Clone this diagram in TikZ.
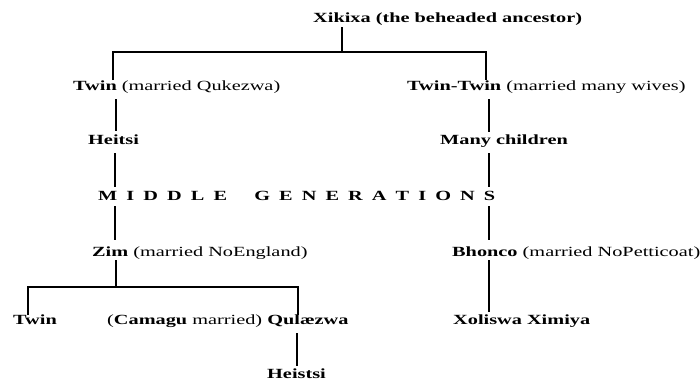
\documentclass[tikz,border=0pt]{standalone}
\usepackage{fontspec}
\setmainfont[FakeStretch=1.45]{Liberation Serif}
\begin{document}
\begin{tikzpicture}[x=1pt,y=1pt,
  lbl/.style={anchor=base west, inner sep=0pt, font=\fontsize{14}{16}\selectfont},
  link/.style={line width=1.7pt, line cap=butt, line join=miter}]
\useasboundingbox[fill=white] (0,0) rectangle (700,-381);
% labels
\node[lbl] (xik) at (313,-22.7) {\textbf{Xikixa (the beheaded ancestor)}};
\node[lbl] (twinA) at (73,-90.3) {\textbf{Twin} (married Qukezwa)};
\node[lbl] (twintwin) at (407,-90.5) {\textbf{Twin-Twin} (married many wives)};
\node[lbl] (heitsi) at (88,-144.4) {\textbf{Heitsi}};
\node[lbl] (many) at (440,-144.2) {\textbf{Many children}};
\node[lbl] (mid) at (98,-200.6) {\textbf{\makebox[397pt][s]{M\hfill I\hfill D\hfill D\hfill L\hfill E\hfill\hfill\hfill G\hfill E\hfill N\hfill E\hfill R\hfill A\hfill T\hfill I\hfill O\hfill N\hfill S}}};
\node[lbl] (zim) at (92,-256) {\textbf{Zim} (married NoEngland)};
\node[lbl] (bhonco) at (452,-256) {\textbf{Bhonco} (married NoPetticoat)};
\node[lbl] (twinB) at (13,-324) {\textbf{Twin}};
\node[lbl] (qul) at (107,-324) {(\textbf{Camagu} married) \textbf{Qulæzwa}};
\node[lbl] (xol) at (453,-324) {\textbf{Xoliswa Ximiya}};
\node[lbl] (heistsi) at (267,-378) {\textbf{Heistsi}};
% connector points
\coordinate (a0) at (342,-27);
\coordinate (a1) at (342,-52);
\coordinate (aL) at (113,-80);
\coordinate (aR) at (486,-52);
\coordinate (aRb) at (486,-80);
\coordinate (l1t) at (116,-99);  \coordinate (l1b) at (116,-131);
\coordinate (l2t) at (115,-153); \coordinate (l2b) at (115,-187);
\coordinate (l3t) at (115,-206); \coordinate (l3b) at (115,-240);
\coordinate (l4t) at (116,-260); \coordinate (l4b) at (116,-287);
\coordinate (r1t) at (489,-99);  \coordinate (r1b) at (489,-132);
\coordinate (r2t) at (489,-153); \coordinate (r2b) at (489,-187);
\coordinate (r3t) at (489,-206); \coordinate (r3b) at (489,-240);
\coordinate (r4t) at (489,-260); \coordinate (r4b) at (489,-312);
\coordinate (zL) at (28,-315);
\coordinate (zR) at (298,-287);
\coordinate (zRb) at (298,-315);
\coordinate (q1) at (297,-333); \coordinate (q2) at (297,-366);
% connectors
\draw[link] (a0) -- (a1);
\draw[link] (aL) |- (aR) -- (aRb);
\draw[link] (l1t) -- (l1b);
\draw[link] (l2t) -- (l2b);
\draw[link] (l3t) -- (l3b);
\draw[link] (l4t) -- (l4b);
\draw[link] (r1t) -- (r1b);
\draw[link] (r2t) -- (r2b);
\draw[link] (r3t) -- (r3b);
\draw[link] (r4t) -- (r4b);
\draw[link] (zL) |- (zR) -- (zRb);
\draw[link] (q1) -- (q2);
\end{tikzpicture}
\end{document}
